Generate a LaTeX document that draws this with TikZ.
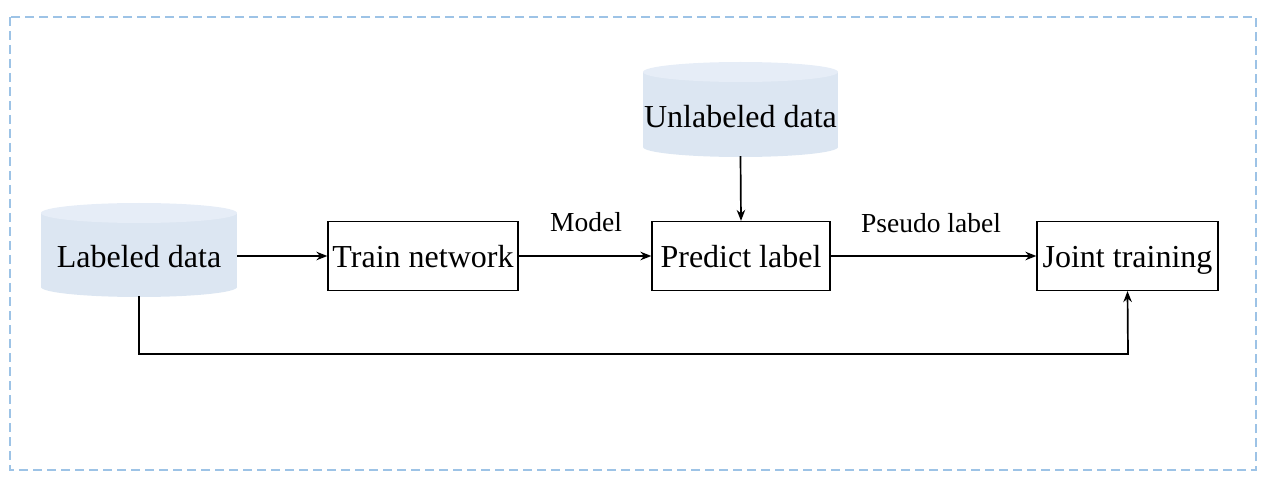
\documentclass[tikz,border=0pt]{standalone}
\usepackage{fontspec}
\setmainfont{Liberation Serif}
\usetikzlibrary{arrows.meta}
\definecolor{dashblue}{HTML}{9DC3E6}
\definecolor{cylbody}{HTML}{DCE6F2}
\definecolor{cyltop}{HTML}{E6EDF7}
\begin{document}
\begin{tikzpicture}[x=1pt,y=-1pt,
  box/.style={draw=black,line width=1.2pt,minimum height=69pt,inner sep=0pt,text height=24pt,text depth=0pt,font=\fontsize{32}{38}\selectfont},
  cyl/.style={minimum width=196pt,minimum height=80pt,inner sep=0pt,text height=24pt,text depth=0pt,font=\fontsize{32}{38}\selectfont},
  lbl/.style={font=\fontsize{27.5}{32}\selectfont,inner sep=0pt},
  arr/.style={line width=1.7pt,-{Stealth[length=11pt,width=8.5pt]}}]
\useasboundingbox (0,0) rectangle (1267,489);
\draw[dashblue,line width=2.2pt,dash pattern=on 9pt off 5pt] (10,17) rectangle (1256,470);
% cylinders
\fill[cylbody] (41,213) rectangle (237,287);
\fill[cylbody] (139,287) ellipse [x radius=98, y radius=10];
\fill[cyltop] (139,213) ellipse [x radius=98, y radius=10];
\fill[cylbody] (643,72) rectangle (838,147);
\fill[cylbody] (740.5,147) ellipse [x radius=97.5, y radius=10];
\fill[cyltop] (740.5,72) ellipse [x radius=97.5, y radius=10];
\node[cyl] (lab) at (139,256) {Labeled data};
\node[cyl,minimum width=195pt] (unl) at (740.5,116) {Unlabeled data};
% boxes
\node[box,minimum width=190pt] (train) at (423,256) {Train network};
\node[box,minimum width=178pt] (pred) at (741,256) {Predict label};
\node[box,minimum width=181pt] (joint) at (1127.5,256) {Joint training};
% connectors
\draw[arr] (lab.east) -- (train.west);
\draw[arr] (train.east) -- (pred.west);
\draw[arr] (pred.east) -- (joint.west);
\draw[arr] (unl.south) -- (pred.north);
\coordinate (c1) at (139,354);
\coordinate (c2) at (1128,354);
\draw[arr] (lab.south) -- (c1) -- (c2) -- (joint.south);
% labels
\node[lbl] (mdl) at (586,222) {Model};
\node[lbl] (psd) at (931,223) {Pseudo label};
\end{tikzpicture}
\end{document}
